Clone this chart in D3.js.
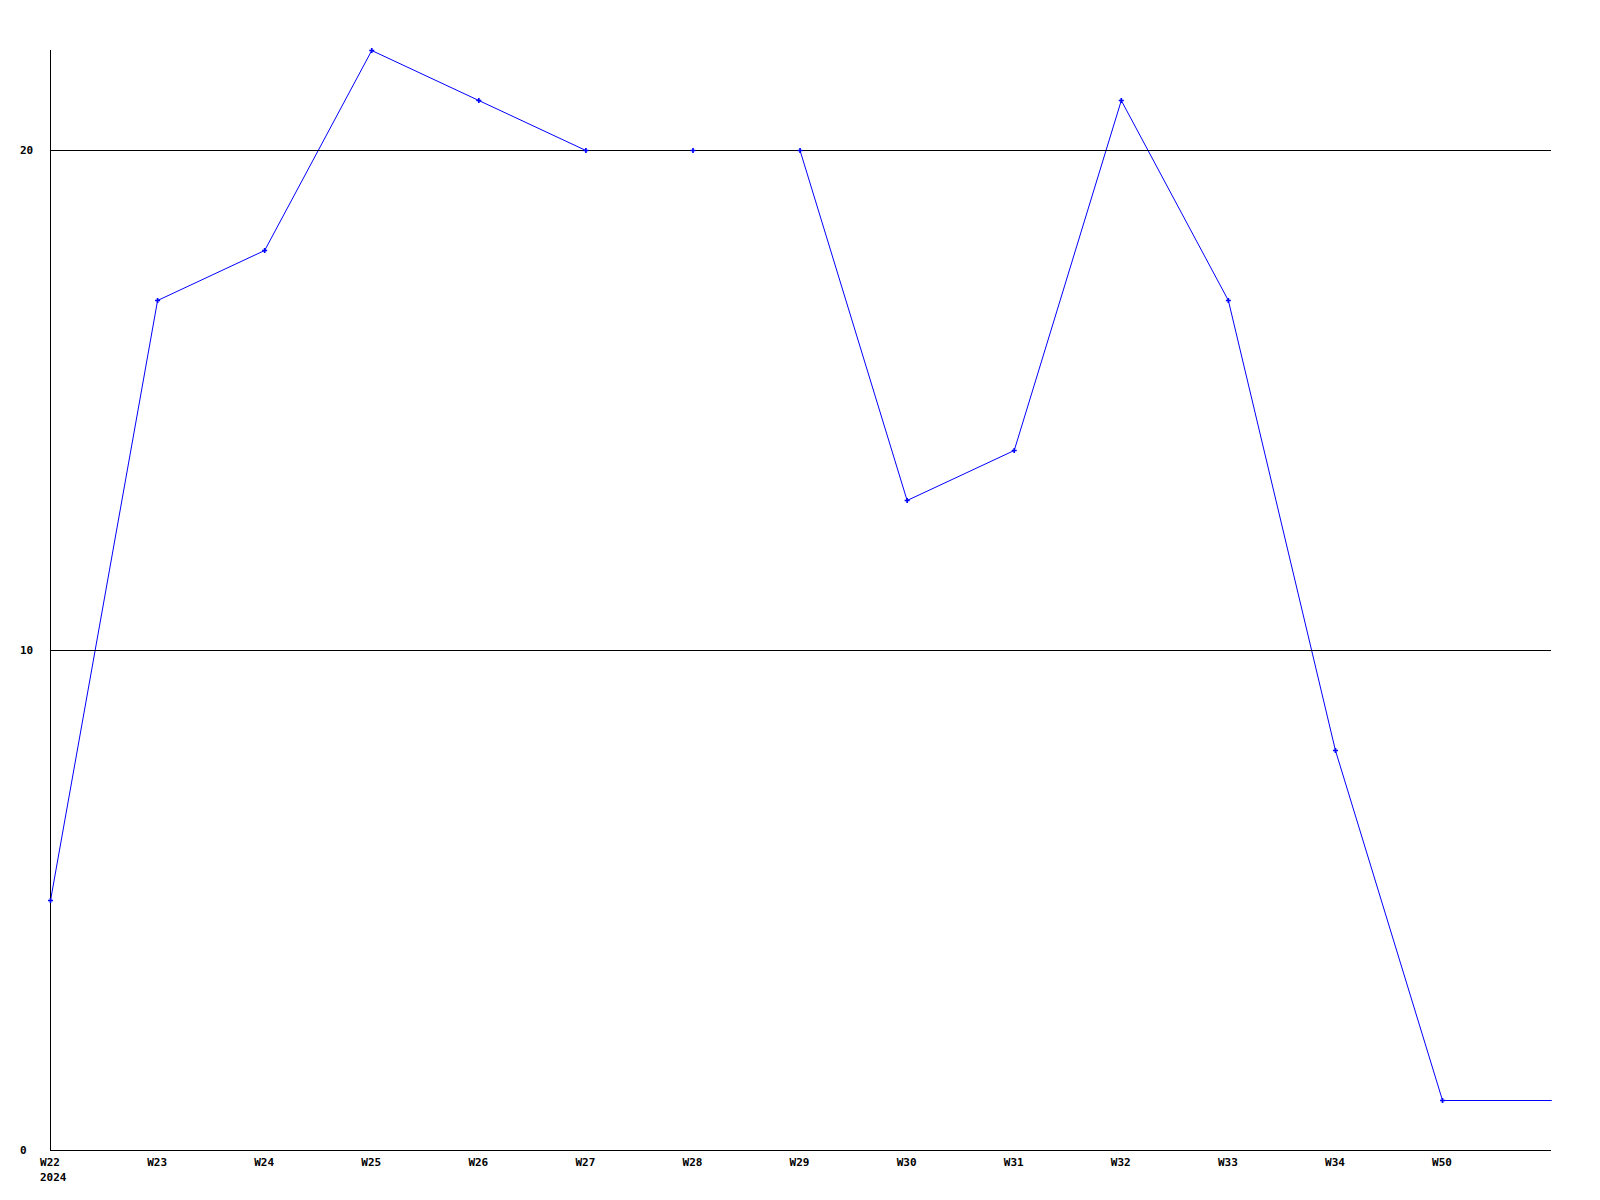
<!DOCTYPE html>
<html><head><meta charset="utf-8">
<script src="https://cdn.jsdelivr.net/npm/d3@7"></script>
<style>html,body{margin:0;padding:0;background:#fff;}svg{display:block;}</style>
</head><body>
<svg id="chart" width="1600" height="1200"></svg>
<script>
const categories = ["W22","W23","W24","W25","W26","W27","W28","W29","W30","W31","W32","W33","W34","W50",""];
const values = [5,17,18,22,21,20,20,20,13,14,21,17,8,1,1];
const yearLabel = "2024";
const yTicks = [0,10,20];

const svg = d3.select("#chart");
const plotLeft = 50, plotTop = 50, plotBottom = 1150;
const step = 107.08;
const x = d3.scaleLinear().domain([0, categories.length - 1]).range([plotLeft, plotLeft + step * (categories.length - 1)]);
const plotRight = plotLeft + step * 14.02;
const y = d3.scaleLinear().domain([0, 22]).range([plotBottom, plotTop]);
const font = "'DejaVu Sans Mono', 'Liberation Mono', monospace";

// line (offset to pixel centres)
const lineG = svg.append("g").attr("transform", "translate(0.5,0.5)");
const pts = values.map((v, i) => [i === values.length - 1 ? plotRight : x(i), y(v)]);
lineG.append("path").attr("d", d3.line()(pts))
  .attr("fill", "none").attr("stroke", "#0000ff").attr("stroke-width", 1);

// gridlines (drawn over the line)
svg.append("g").selectAll("line").data(yTicks.filter(d => d > 0)).join("line")
  .attr("x1", plotLeft).attr("x2", plotRight)
  .attr("y1", d => Math.round(y(d)) + 0.5).attr("y2", d => Math.round(y(d)) + 0.5)
  .attr("stroke", "#000").attr("stroke-width", 1).attr("shape-rendering", "crispEdges");

// axes lines
svg.append("line").attr("x1", plotLeft + 0.5).attr("x2", plotLeft + 0.5).attr("y1", plotTop).attr("y2", plotBottom + 0.5)
  .attr("stroke", "#000").attr("shape-rendering", "crispEdges");
svg.append("line").attr("x1", plotLeft).attr("x2", plotRight).attr("y1", plotBottom + 0.5).attr("y2", plotBottom + 0.5)
  .attr("stroke", "#000").attr("shape-rendering", "crispEdges");

// y labels
svg.append("g").selectAll("text").data(yTicks).join("text")
  .attr("x", 20).attr("y", d => y(d)).attr("dy", "0.35em")
  .attr("font-family", font).attr("font-weight", "bold").attr("font-size", 11)
  .text(d => d);

// x labels
svg.append("g").selectAll("text").data(categories.map((c, i) => ({c, i})).filter(d => d.c)).join("text")
  .attr("x", d => x(d.i)).attr("y", 1166).attr("text-anchor", "middle")
  .attr("font-family", font).attr("font-weight", "bold").attr("font-size", 11)
  .text(d => d.c);
svg.append("text").attr("x", x(0) - 10).attr("y", 1181)
  .attr("font-family", font).attr("font-weight", "bold").attr("font-size", 11)
  .text(yearLabel);

// markers
svg.append("g").attr("transform", "translate(0.5,0.5)")
  .selectAll("path").data(values.slice(0, values.length - 1)).join("path")
  .attr("transform", (d, i) => `translate(${x(i)},${y(d)})`)
  .attr("d", d3.symbol().type(d3.symbolCross).size(14))
  .attr("fill", "#0000ff");
</script>
</body></html>
